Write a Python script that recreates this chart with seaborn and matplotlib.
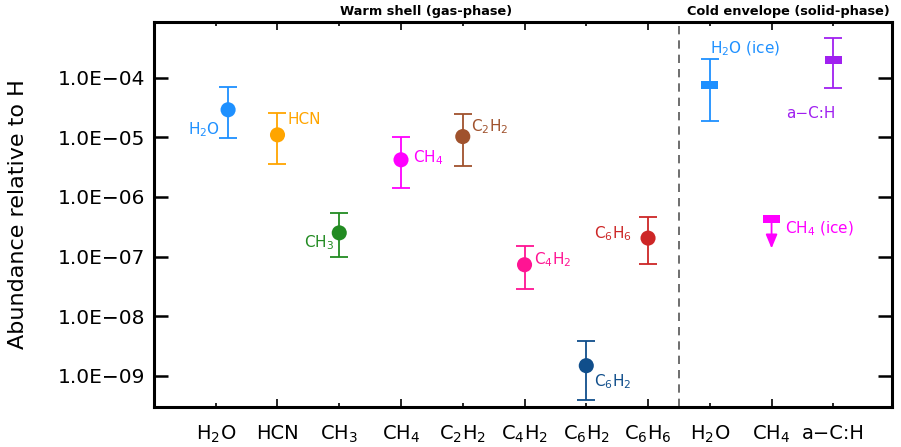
import numpy as np
import pandas as pd
import matplotlib
matplotlib.use("Agg")
import matplotlib.pyplot as plt
from matplotlib.markers import MarkerStyle
from matplotlib.ticker import NullLocator
import seaborn as sns

# ---------------- data ----------------
gas_species = ["H2O", "HCN", "CH3", "CH4", "C2H2", "C4H2", "C6H2", "C6H6"]
gas_labels = [r"H$_2$O", "HCN", r"CH$_3$", r"CH$_4$", r"C$_2$H$_2$",
              r"C$_4$H$_2$", r"C$_6$H$_2$", r"C$_6$H$_6$"]
gas_x = [1.2, 2, 3, 4, 5, 6, 7, 8]
gas_value = [2.9e-5, 1.1e-5, 2.5e-7, 4.2e-6, 1.03e-5, 7.3e-8, 1.48e-9, 2.04e-7]
gas_upper = [7.1e-5, 2.6e-5, 5.4e-7, 1.0e-5, 2.47e-5, 1.5e-7, 3.9e-9, 4.6e-7]
gas_lower = [9.7e-6, 3.6e-6, 9.7e-8, 1.4e-6, 3.3e-6, 2.9e-8, 3.9e-10, 7.5e-8]
gas_colors = ["#1E90FF", "#FFA500", "#228B22", "#FF00FF", "#A0522D",
              "#FF1493", "#104E8B", "#CD2626"]

ice_species = ["H2O (ice)", "CH4 (ice)", "a-C:H"]
ice_labels = [r"H$_2$O (ice)", r"CH$_4$ (ice)", "a\u2212C:H"]
ice_x = [9, 10, 11]
ice_value = [7.5e-5, 4.25e-7, 1.98e-4]
ice_upper = [2.06e-4, np.nan, 4.68e-4]
ice_lower = [1.9e-5, np.nan, 6.6e-5]
ice_upper_limit = [False, True, False]
ice_colors = ["#1E90FF", "#FF00FF", "#A020F0"]

xtick_pos = list(range(1, 12))
xtick_labels = [r"H$_2$O", "HCN", r"CH$_3$", r"CH$_4$", r"C$_2$H$_2$",
                r"C$_4$H$_2$", r"C$_6$H$_2$", r"C$_6$H$_6$", r"H$_2$O",
                r"CH$_4$", "a\u2212C:H"]
ytick_vals = [1e-4, 1e-5, 1e-6, 1e-7, 1e-8, 1e-9]
ytick_labels = ["1.0E\u221204", "1.0E\u221205", "1.0E\u221206",
                "1.0E\u221207", "1.0E\u221208", "1.0E\u221209"]
section_titles = ["Warm shell (gas-phase)", "Cold envelope (solid-phase)"]
phase_divider = 8.5

# ---------------- style / label placement ----------------
# (dx, dy) in points of the label's cap-centre relative to the point, alignment
gas_label_style = [(-5.8, -13.7, "right"), (7.2, 11.5, "left"), (-3.6, -6.3, "right"),
                   (8.6, 2.0, "left"), (5.8, 7.9, "left"), (6.5, 4.3, "left"),
                   (5.8, -10.8, "left"), (-11.5, 4.2, "right")]
ice_label_style = [(0.0, 27.0, "left"), (9.4, -6.1, "left"), (1.4, -38.0, "right")]
arrow_factor = 3.1

sns.set_style("white")
plt.rcParams["font.family"] = ["DejaVu Sans"]
plt.rcParams["mathtext.default"] = "regular"
for k in ["text.color", "axes.labelcolor", "xtick.color", "ytick.color", "axes.edgecolor"]:
    plt.rcParams[k] = "black"

fig = plt.figure(figsize=(9.01, 4.47), dpi=100)
ax = fig.add_axes([0.1709, 0.0895, 0.8191, 0.8613])
ax.set_yscale("log")

gas_df = pd.DataFrame({"species": gas_species, "x": gas_x, "value": gas_value,
                       "upper": gas_upper, "lower": gas_lower})
ice_df = pd.DataFrame({"species": ice_species, "x": ice_x, "value": ice_value,
                       "upper": ice_upper, "lower": ice_lower})

elw = 1.3
cap = 6.8
for _, r in gas_df.iterrows():
    c = gas_colors[gas_species.index(r["species"])]
    ax.errorbar(r["x"], r["value"],
                yerr=[[r["value"] - r["lower"]], [r["upper"] - r["value"]]],
                fmt="none", ecolor=c, elinewidth=elw, capsize=cap, capthick=elw, zorder=2)
sns.scatterplot(data=gas_df, x="x", y="value", hue="species",
                palette=dict(zip(gas_species, gas_colors)), s=118, marker="o",
                linewidth=0, edgecolor="none", legend=False, ax=ax, zorder=3)

for i, r in ice_df.iterrows():
    c = ice_colors[i]
    if ice_upper_limit[i]:
        ax.annotate("", xy=(r["x"], r["value"] / arrow_factor), xytext=(r["x"], r["value"]),
                    arrowprops=dict(arrowstyle="-|>,head_length=0.6,head_width=0.25",
                                    color=c, lw=elw, mutation_scale=14,
                                    shrinkA=0, shrinkB=0), zorder=2)
    else:
        ax.errorbar(r["x"], r["value"],
                    yerr=[[r["value"] - r["lower"]], [r["upper"] - r["value"]]],
                    fmt="none", ecolor=c, elinewidth=elw, capsize=cap, capthick=elw, zorder=2)
rect = MarkerStyle([(-1, -0.5), (1, -0.5), (1, 0.5), (-1, 0.5), (-1, -0.5)])
sns.scatterplot(data=ice_df, x="x", y="value", hue="species",
                palette=dict(zip(ice_species, ice_colors)), s=150, marker=rect,
                linewidth=0, edgecolor="none", legend=False, ax=ax, zorder=3)

# labels beside points
lab_fs = 11
half_cap = 0.365 * lab_fs
for i in range(len(gas_species)):
    dx, dy, ha = gas_label_style[i]
    ax.annotate(gas_labels[i], xy=(gas_x[i], gas_value[i]), xytext=(dx, dy - half_cap),
                textcoords="offset points", ha=ha, va="baseline",
                fontsize=lab_fs, color=gas_colors[i])
for i in range(len(ice_species)):
    dx, dy, ha = ice_label_style[i]
    ax.annotate(ice_labels[i], xy=(ice_x[i], ice_value[i]), xytext=(dx, dy - half_cap),
                textcoords="offset points", ha=ha, va="baseline",
                fontsize=lab_fs, color=ice_colors[i])

ax.axvline(phase_divider, color="#555555", lw=1.2, ls=(0, (5.0, 3.6)), zorder=1)

# axes
ax.set_xlim(0, 11.95)
ax.set_ylim(3.0e-10, 8.6e-4)
ax.set_xticks(xtick_pos[1::2], labels=xtick_labels[1::2])
ax.set_xticks(xtick_pos[0::2], labels=xtick_labels[0::2], minor=True)
ax.set_yticks(ytick_vals, labels=ytick_labels)
ax.yaxis.set_minor_locator(NullLocator())
ax.tick_params(axis="x", which="both", direction="in", top=True, bottom=True,
               labelsize=14, pad=12, width=1.2)
ax.tick_params(axis="x", which="major", length=5.5)
ax.tick_params(axis="x", which="minor", length=3.2)
ax.tick_params(axis="y", which="major", direction="in", left=True, right=True,
               length=10, width=1.8, labelsize=14.5, pad=6.5)
for s in ax.spines.values():
    s.set_linewidth(2.2)
ax.set_xlabel("")
ax.set_ylabel("Abundance relative to H", fontsize=16)
ax.yaxis.set_label_coords(-0.1707, 0.5)

ax.text(0.3686, 1.026, section_titles[0], transform=ax.transAxes, ha="center",
        va="center", fontsize=9.3, fontweight="bold")
ax.text(0.859, 1.026, section_titles[1], transform=ax.transAxes, ha="center",
        va="center", fontsize=9.3, fontweight="bold")

fig.savefig("out.png", dpi=100)
